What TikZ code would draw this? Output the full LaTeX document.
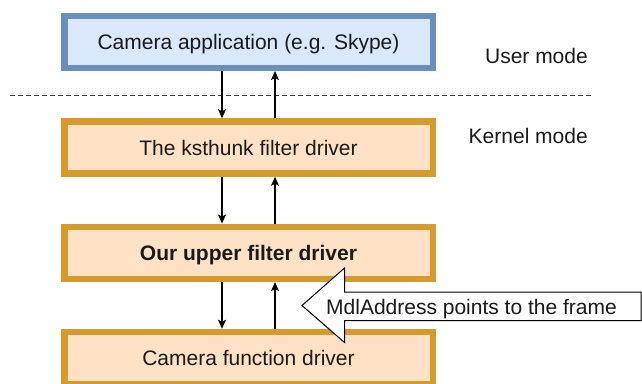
\documentclass[tikz,border=0pt]{standalone}
\usepackage{fontspec}
\setmainfont{Liberation Sans}
\usetikzlibrary{arrows.meta}
\definecolor{bluestroke}{HTML}{6C8EBF}
\definecolor{bluefill}{HTML}{DAE8FC}
\definecolor{orstroke}{HTML}{D69A2D}
\definecolor{orfill}{HTML}{FFE2C6}
\definecolor{txt}{HTML}{1A1A1A}
\begin{document}
\begin{tikzpicture}[x=1pt,y=-1pt,
  every node/.style={font=\fontsize{21}{25}\selectfont, text=txt, text height=15pt, text depth=0pt},
  box/.style={draw, line width=6.5pt, minimum width=368.5pt, minimum height=52pt, inner sep=0pt, outer sep=3.25pt},
  ublock/.style={box, draw=bluestroke, fill=bluefill},
  kblock/.style={box, draw=orstroke, fill=orfill},
  flow/.style={line width=1.3pt, -{Stealth[length=9pt,width=8pt,inset=2pt]}},
  sep/.style={dash pattern=on 5pt off 3pt, line width=1pt, draw=black!75},
  callout/.style={draw=black, line width=1pt, fill=white, line join=miter}
]
\useasboundingbox[fill=white] (0,0) rectangle (642,383);
\begin{scope}
\clip (0,0) rectangle (642,383);
% separator
\coordinate (sl) at (10,95);
\coordinate (sr) at (592,95);
\draw[sep] (sl) -- (sr);
% mode labels
\node[anchor=east, inner sep=0pt] (user) at (588,55.5) {User mode};
\node[anchor=east, inner sep=0pt] (kernel) at (588,135.5) {Kernel mode};
% boxes
\node[ublock] (app) at (248.5,41.8) {Camera application (e.g. Skype)};
\node[kblock] (ks) at (248.5,147.5) {The ksthunk filter driver};
\node[kblock] (our) at (248.5,252.8) {\bfseries Our upper filter driver};
\node[kblock] (cam) at (248.5,358) {Camera function driver};
% connectors
\coordinate (dn) at (222,0);
\coordinate (up) at (275,0);
\draw[flow] (app.south -| dn) -- (ks.north -| dn);
\draw[flow] (ks.north -| up) -- (app.south -| up);
\draw[flow] (ks.south -| dn) -- (our.north -| dn);
\draw[flow] (our.north -| up) -- (ks.south -| up);
\draw[flow] (our.south -| dn) -- (cam.north -| dn);
\draw[flow] (cam.north -| up) -- (our.south -| up);
% callout block arrow
\draw[callout] (641,292) -- (344.5,292) -- (344.5,268) -- (302,305.5) -- (344.5,342.5) -- (344.5,320.5) -- (641,320.5) -- cycle;
\node (mdl) at (471.5,306.7) {MdlAddress points to the frame};
\end{scope}
\end{tikzpicture}
\end{document}
